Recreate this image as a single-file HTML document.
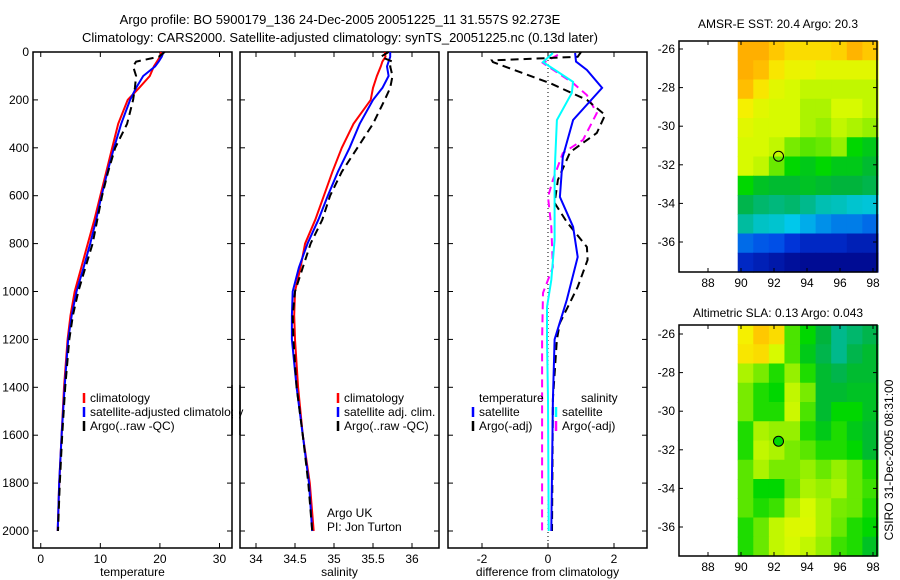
<!DOCTYPE html>
<html><head><meta charset="utf-8"><style>
body{margin:0;background:#fff}
svg{display:block;font-family:"Liberation Sans",sans-serif;font-size:12px}
</style></head><body>
<svg id="fig" width="900" height="580" viewBox="0 0 900 580">
<text x="340" y="24" text-anchor="middle" font-size="13">Argo profile: BO 5900179_136 24-Dec-2005 20051225_11 31.557S 92.273E</text>
<text x="340" y="42" text-anchor="middle" font-size="13">Climatology: CARS2000. Satellite-adjusted climatology: synTS_20051225.nc (0.13d later)</text>
<text x="778" y="28" text-anchor="middle">AMSR-E SST: 20.4 Argo: 20.3</text>
<text x="778" y="317" text-anchor="middle">Altimetric SLA: 0.13 Argo: 0.043</text>
<text transform="translate(893,460) rotate(-90)" text-anchor="middle">CSIRO 31-Dec-2005 08:31:00</text>
<text x="327" y="517">Argo UK</text>
<text x="327" y="531">PI: Jon Turton</text>
</svg>
<script>
// ---- data ----
const depthTicks=[0,200,400,600,800,1000,1200,1400,1600,1800,2000];
const tTicks=[0,10,20,30];
const sTicks=[34,34.5,35,35.5,36];
const sTickLabels=["34","34.5","35","35.5","36"];
const dTicks=[-2,0,2];
const profDepths=[0,20,40,60,100,150,200,300,400,500,600,700,800,900,1000,1100,1200,1400,1600,1800,2000];
const tempClim=[20.2,20,19.5,19,18.3,16.5,14.6,13,12,11,10,9,7.9,6.8,5.7,5,4.5,3.9,3.5,3.1,2.85];
const tempSat=[20.6,20.3,19.8,19.2,17.2,16,15,13.5,12.3,11.2,10.2,9.3,8.3,7.2,6,5.2,4.6,4,3.5,3.1,2.85];
const tempArgo=[20.8,19.8,16,15.5,16,15.8,15.5,14.5,12.5,11.3,10.3,9.5,8.7,7.5,6.3,5.4,4.8,4.1,3.6,3.2,2.9];
const salClim=[35.65,35.66,35.62,35.6,35.55,35.5,35.47,35.25,35.1,34.98,34.87,34.76,34.63,34.57,34.5,34.49,34.5,34.54,34.6,34.69,34.74];
const salSat=[35.72,35.72,35.7,35.68,35.7,35.62,35.5,35.33,35.2,35.05,34.92,34.8,34.66,34.55,34.47,34.46,34.46,34.52,34.6,34.68,34.72];
const salArgo=[35.7,35.6,35.75,35.72,35.75,35.72,35.65,35.5,35.3,35.1,34.95,34.85,34.7,34.6,34.5,34.47,34.48,34.52,34.6,34.67,34.72];
const dTempSatDepth=[4,40,75,150,284,438,605,730,856,1035,1200,1453,2000];
const dTempSat=[0.82,0.85,1.18,1.64,0.76,0.45,0.36,0.76,0.9,0.57,0.2,0.15,0.1];
const dTempArgoDepth=[0,20,35,42,130,200,263,338,418,534,630,710,814,868,981,1131,1200,1450,2000];
const dTempArgo=[1.0,0.9,-1.7,-1.67,0.06,1.18,1.73,1.48,0.67,0.3,0.2,0.57,1.18,1.2,0.9,0.36,0.27,0.15,0.12];
const dSalSatDepth=[4,42,125,171,284,505,785,952,1065,1200,1450,2000];
const dSalSat=[0.15,-0.15,0.76,0.72,0.27,0.2,0.2,0.1,-0.03,-0.03,0.0,0.02];
const dSalArgoDepth=[12,46,130,180,255,367,422,534,605,730,898,1006,1200,1450,2000];
const dSalArgo=[0.3,-0.15,0.76,1.18,1.48,1.06,0.45,0.15,0,0.1,0.15,-0.15,-0.18,-0.18,-0.18];
const lonTicks=[88,90,92,94,96,98];
const latTicks=[-26,-28,-30,-32,-34,-36];
const sstGrid=[
[.85,.85,.8,.76,.76,.76,.78,.84,.8],
[.85,.82,.74,.7,.7,.68,.68,.68,.68],
[.82,.74,.68,.66,.64,.64,.64,.64,.64],
[.72,.68,.66,.66,.62,.62,.66,.66,.64],
[.68,.66,.66,.66,.62,.6,.64,.62,.6],
[.66,.66,.64,.58,.56,.57,.6,.5,.48],
[.66,.64,.57,.5,.48,.5,.48,.48,.46],
[.5,.47,.46,.46,.47,.46,.45,.45,.44],
[.44,.42,.41,.42,.4,.36,.35,.33,.32],
[.38,.34,.33,.3,.27,.24,.22,.22,.2],
[.2,.18,.17,.13,.1,.1,.1,.08,.08],
[.1,.08,.06,.04,.03,.03,.03,.03,.03]];
const slaGrid=[
[.72,.8,.76,.55,.5,.45,.4,.42,.44],
[.74,.76,.66,.55,.48,.44,.4,.44,.46],
[.62,.58,.52,.6,.52,.46,.44,.46,.46],
[.58,.52,.5,.64,.58,.46,.46,.47,.47],
[.58,.52,.52,.65,.55,.46,.5,.5,.47],
[.52,.62,.6,.6,.52,.48,.52,.48,.46],
[.52,.64,.62,.58,.56,.52,.52,.5,.46],
[.56,.62,.58,.58,.6,.57,.6,.57,.52],
[.56,.5,.5,.57,.62,.6,.62,.57,.54],
[.56,.52,.54,.62,.66,.62,.58,.57,.52],
[.52,.57,.64,.67,.67,.62,.57,.52,.5],
[.52,.57,.64,.66,.64,.6,.54,.52,.47]];
const floatLon=92.273, floatLat=-31.557;
const slaFloatLevel=0.5;

// ---- drawing ----
const NS="http://www.w3.org/2000/svg";
const svg=document.getElementById('fig');
function mk(tag,at,parent){const e=document.createElementNS(NS,tag);for(const k in at)e.setAttribute(k,at[k]);(parent||svg).appendChild(e);return e;}
const yTop=52,yPer=(531-52)/2000,yBot=548;
const yD=d=>yTop+d*yPer;
function panel(x0,x1,xmin,xmax,ticks,labels,xlabel,name,showY){
  const sx=v=>x0+(v-xmin)/(xmax-xmin)*(x1-x0);
  const g=mk('g',{});
  
  
  const r=mk('rect',{x:x0,y:yTop,width:x1-x0,height:yBot-yTop,fill:'none',stroke:'#000','stroke-width':1.5},g);
  
  
  ticks.forEach((t,i)=>{const x=sx(t);
    mk('line',{x1:x,x2:x,y1:yBot,y2:yBot-5,stroke:'#000'},g);
    mk('line',{x1:x,x2:x,y1:yTop,y2:yTop+5,stroke:'#000'},g);
    const tx=mk('text',{x:x,y:yBot+15,'text-anchor':'middle'},g);tx.textContent=labels[i];
    
    
  });
  depthTicks.forEach(d=>{const y=yD(d);
    mk('line',{x1:x0,x2:x0+5,y1:y,y2:y,stroke:'#000'},g);
    mk('line',{x1:x1,x2:x1-5,y1:y,y2:y,stroke:'#000'},g);
    if(showY){const t=mk('text',{x:x0-4,y:y+4,'text-anchor':'end'},g);t.textContent=d;
      
      }
  });
  const xl=mk('text',{x:(x0+x1)/2,y:576,'text-anchor':'middle'},g);xl.textContent=xlabel;
  
  
  return sx;
}
function line(sx,depths,vals,color,dash,name,w){
  const pts=depths.map((d,i)=>sx(vals[i]).toFixed(1)+','+yD(d).toFixed(1)).join(' ');
  const p=mk('polyline',{points:pts,fill:'none',stroke:color,'stroke-width':w||2,'stroke-dasharray':dash||'none'});
  
  
}
function legend(x,y,items){
  items.forEach((it,i)=>{const yy=y+i*14;
    if(it[1])mk('line',{x1:x,x2:x,y1:yy-9,y2:yy+1,stroke:it[1],'stroke-width':2.5});
    const t=mk('text',{x:x+6,y:yy});t.textContent=it[0];
    
    });
}
// panel 1
const sxT=panel(33,232,-1.3,32.1,tTicks,tTicks.map(String),'temperature','temperature-panel',true);
line(sxT,profDepths,tempClim,'#f00','','temp-climatology-line');
line(sxT,profDepths,tempSat,'#00f','','temp-satellite-line');
line(sxT,profDepths,tempArgo,'#000','8,5','temp-argo-line');
// panel 2
const sxS=panel(240,439,33.795,36.346,sTicks,sTickLabels,'salinity','salinity-panel',false);
line(sxS,profDepths,salClim,'#f00','','sal-climatology-line');
line(sxS,profDepths,salSat,'#00f','','sal-satellite-line');
line(sxS,profDepths,salArgo,'#000','8,5','sal-argo-line');
// panel 3
const sxD=panel(448,647,-3.03,3.0,dTicks,dTicks.map(String),'difference from climatology','difference-panel',false);
mk('line',{x1:sxD(0),x2:sxD(0),y1:yTop,y2:yBot,stroke:'#000','stroke-dasharray':'1,3'});
line(sxD,dSalArgoDepth,dSalArgo,'#f0f','8,5','sal-argo-diff-line');
line(sxD,dTempArgoDepth,dTempArgo,'#000','8,5','temp-argo-diff-line');
line(sxD,dTempSatDepth,dTempSat,'#00f','','temp-satellite-diff-line');
line(sxD,dSalSatDepth,dSalSat,'#0ff','','sal-satellite-diff-line');
// legends
legend(84,402,[['climatology','#f00'],['satellite-adjusted climatology','#00f'],['Argo(..raw -QC)','#000']]);
mk('rect',{x:233,y:385,width:6,height:50,fill:'#fff'});
mk('line',{x1:232,x2:232,y1:385,y2:435,stroke:'#000','stroke-width':1.5});
mk('line',{x1:240,x2:240,y1:385,y2:435,stroke:'#000','stroke-width':1.5});
legend(338,402,[['climatology','#f00'],['satellite adj. clim.','#00f'],['Argo(..raw -QC)','#000']]);
legend(473,402,[['temperature',null],['satellite','#00f'],['Argo(-adj)','#000']]);
legend(556,402,[['',null],['satellite','#0ff'],['Argo(-adj)','#f0f']]);
(()=>{const t=mk('text',{x:581,y:402});t.textContent='salinity';})();

// maps: custom colormap stops (value, r, g, b)
const cmapStops=[[0,0,0,128],[0.15,0,60,230],[0.3,0,200,235],[0.4,0,185,140],[0.45,0,180,60],[0.5,0,215,0],[0.6,150,240,0],[0.66,215,250,0],[0.72,245,240,0],[0.8,255,200,0],[0.9,255,150,0],[1,255,100,0]];
function cmap(v){v=Math.max(0,Math.min(1,v));
  for(let i=1;i<cmapStops.length;i++){const a=cmapStops[i-1],b=cmapStops[i];
    if(v<=b[0]){const f=(v-a[0])/(b[0]-a[0]);
      return `rgb(${Math.round(a[1]+f*(b[1]-a[1]))},${Math.round(a[2]+f*(b[2]-a[2]))},${Math.round(a[3]+f*(b[3]-a[3]))})`;}}
  return 'rgb(255,100,0)';}
function map(y0,y1,lat26y,grid,name,fl){
  const x0=679,x1=877;
  const sx=lon=>708+(lon-88)*16.5;
  const sy=lat=>lat26y+(-26-lat)*19.3;
  const g=mk('g',{});
  
  
  const latTop=-26-(y0-lat26y)/19.3, latBot=-26-(y1-lat26y)/19.3;
  const nr=grid.length,nc=grid[0].length;
  const lonA=89.8,lonB=98.3;
  for(let r=0;r<nr;r++)for(let c=0;c<nc;c++){
    const la0=latTop+(latBot-latTop)*r/nr, la1=latTop+(latBot-latTop)*(r+1)/nr;
    const lo0=lonA+(lonB-lonA)*c/nc, lo1=lonA+(lonB-lonA)*(c+1)/nc;
    const cell=mk('rect',{x:sx(lo0),y:sy(la0),width:sx(lo1)-sx(lo0)+0.6,height:sy(la1)-sy(la0)+0.6,fill:cmap(grid[r][c])},g);
    
    
  }
  mk('rect',{x:x0,y:y0,width:x1-x0,height:y1-y0,fill:'none',stroke:'#000','stroke-width':1.5},g);
  lonTicks.forEach(l=>{const x=sx(l);mk('line',{x1:x,x2:x,y1:y1,y2:y1-4,stroke:'#000'},g);mk('line',{x1:x,x2:x,y1:y0,y2:y0+4,stroke:'#000'},g);
    const t=mk('text',{x:x,y:y1+15,'text-anchor':'middle'},g);t.textContent=l;
    
    });
  latTicks.forEach(l=>{const y=sy(l);mk('line',{x1:x0,x2:x0+4,y1:y,y2:y,stroke:'#000'},g);mk('line',{x1:x1,x2:x1-4,y1:y,y2:y,stroke:'#000'},g);
    const t=mk('text',{x:x0-4,y:y+4,'text-anchor':'end'},g);t.textContent=l;
    
    });
  const c=mk('circle',{cx:sx(floatLon),cy:sy(floatLat),r:5,fill:fl==null?'none':cmap(fl),stroke:'#000'},g);
  
  
}
map(41,272,49,sstGrid,'sst-map',null);
map(325,556,334,slaGrid,'sla-map',slaFloatLevel);
</script>
</body></html>
